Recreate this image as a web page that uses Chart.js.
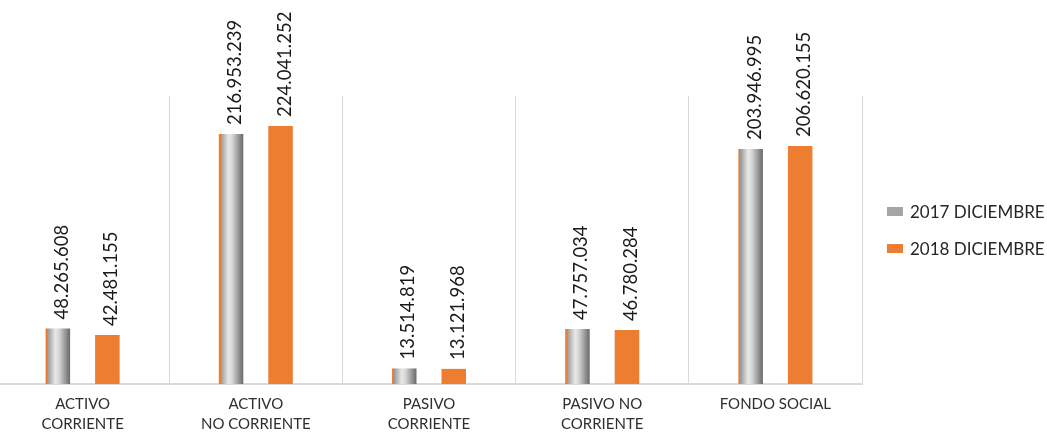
<!DOCTYPE html>
<html>
<head>
<meta charset="utf-8">
<script src="https://cdn.jsdelivr.net/npm/chart.js@4.4.0/dist/chart.umd.min.js"></script>
<style>
  html, body { margin: 0; padding: 0; background: #fff; overflow: hidden; }
  #wrap { position: relative; width: 1047px; height: 433px; overflow: hidden; }
  /* canvas is a bit larger than the window so the plot area lines up with the source */
  #chart { position: absolute; left: -4px; top: 0; }
  #legend { position: absolute; left: 887px; top: 193px; font-family: Lato, sans-serif; font-size: 17px; color: #262626; }
  #legend .item { display: flex; align-items: center; height: 37px; white-space: nowrap; }
  #legend .box { width: 16px; height: 9px; margin-right: 7px; }
</style>
</head>
<body>
<div id="wrap">
  <canvas id="chart" width="1051" height="444"></canvas>
  <div id="legend"></div>
</div>
<script>
const categories = [
    ['ACTIVO', 'CORRIENTE'],
    ['ACTIVO', 'NO CORRIENTE'],
    ['PASIVO', 'CORRIENTE'],
    ['PASIVO NO', 'CORRIENTE'],
    ['FONDO SOCIAL']
];
const seriesNames = ['2017 DICIEMBRE', '2018 DICIEMBRE'];
const values2017 = [48265608, 216953239, 13514819, 47757034, 203946995];
const values2018 = [42481155, 224041252, 13121968, 46780284, 206620155];
const yMax = 250000000;

const CAT_PCT = 0.572;
const BAR_PCT = 0.495;
const ORANGE = '#ed7d31';
const GRAY = '#a5a5a5';

// thousands with dots, like the source
function fmt(n) {
    return String(n).replace(/\B(?=(\d{3})+(?!\d))/g, '.');
}

// metallic gradient for the 2017 bars, built from the bar's own slot on the x scale
function grayBar(ctx) {
    const chart = ctx.chart;
    const xs = chart.scales.x;
    if (ctx.type !== 'data' || !xs || !chart.chartArea) return GRAY;
    const catW = xs.width / categories.length;
    const slot = catW * CAT_PCT / 2;
    const center = xs.getPixelForValue(ctx.dataIndex) - slot / 2;
    const w = slot * BAR_PCT;
    const g = chart.ctx.createLinearGradient(center - w / 2, 0, center + w / 2, 0);
    g.addColorStop(0, ORANGE);
    g.addColorStop(0.07, ORANGE);
    g.addColorStop(0.08, '#979797');
    g.addColorStop(0.4, '#e8e8e8');
    g.addColorStop(0.55, '#d6d6d6');
    g.addColorStop(1, '#686868');
    return g;
}

const valueLabels = {
    id: 'valueLabels',
    afterDatasetsDraw(chart) {
        const c = chart.ctx;
        c.save();
        c.font = '18.5px Lato, sans-serif';
        c.fillStyle = '#1a1a1a';
        c.textAlign = 'left';
        c.textBaseline = 'alphabetic';
        chart.data.datasets.forEach((ds, i) => {
            chart.getDatasetMeta(i).data.forEach((bar, j) => {
                c.save();
                c.translate(bar.x + 10, bar.y - 9);
                c.rotate(-Math.PI / 2);
                c.fillText(fmt(ds.data[j]), 0, 0);
                c.restore();
            });
        });
        c.restore();
    }
};

const chart = new Chart(document.getElementById('chart'), {
    type: 'bar',
    data: {
        labels: categories,
        datasets: [
            { label: seriesNames[0], data: values2017, backgroundColor: grayBar, borderWidth: 0 },
            { label: seriesNames[1], data: values2018, backgroundColor: ORANGE, borderWidth: 0 }
        ]
    },
    options: {
        responsive: false,
        animation: false,
        categoryPercentage: CAT_PCT,
        barPercentage: BAR_PCT,
        layout: { padding: { left: 0, right: 185, top: 96, bottom: 0 } },
        plugins: {
            legend: { display: false },
            tooltip: { enabled: false }
        },
        scales: {
            x: {
                grid: { color: '#d9d9d9', lineWidth: 1, drawTicks: false, offset: true },
                border: { display: true, color: '#d9d9d9', width: 2 },
                ticks: {
                    color: '#2e2e2e',
                    padding: 10,
                    maxRotation: 0,
                    autoSkip: false,
                    font: { family: 'Lato, sans-serif', size: 15, lineHeight: 1.333 }
                }
            },
            y: { display: false, min: 0, max: yMax }
        }
    },
    plugins: [valueLabels]
});

// legend built from the datasets
const legendEl = document.getElementById('legend');
chart.data.datasets.forEach((ds, i) => {
    const item = document.createElement('div');
    item.className = 'item';
    const box = document.createElement('span');
    box.className = 'box';
    box.style.background = i === 0 ? GRAY : ORANGE;
    const txt = document.createElement('span');
    txt.textContent = ds.label;
    item.appendChild(box);
    item.appendChild(txt);
    legendEl.appendChild(item);
});
</script>
</body>
</html>
